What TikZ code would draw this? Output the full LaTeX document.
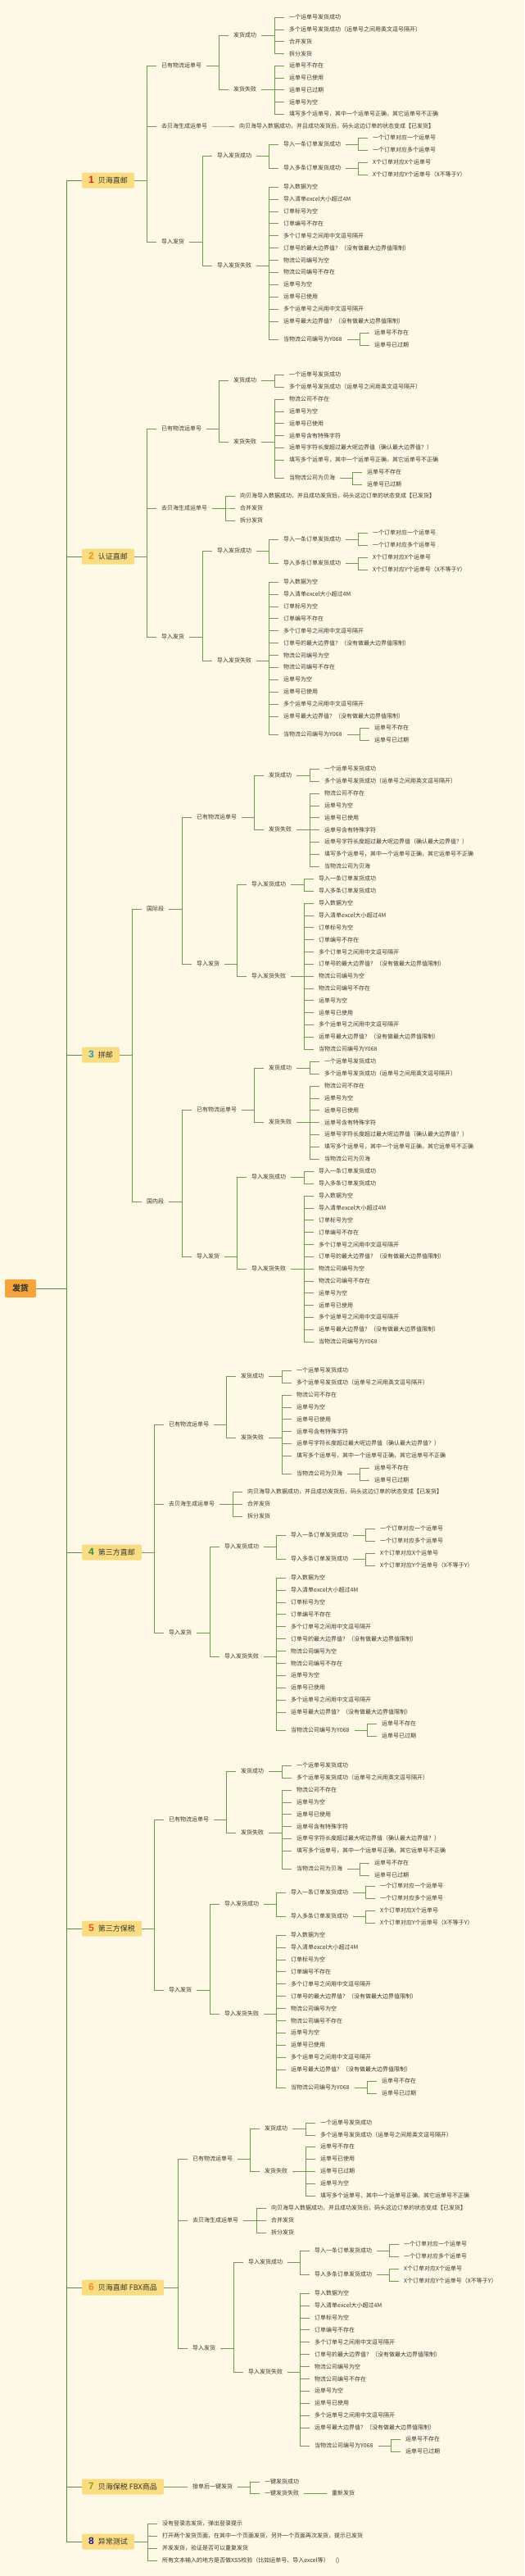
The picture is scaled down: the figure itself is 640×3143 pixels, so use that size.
\documentclass[tikz,border=0pt]{standalone}
\usepackage{fontspec}
\setmainfont{Noto Sans CJK SC}
\newfontfamily\numfont{Liberation Sans}

\begin{document}
\begin{tikzpicture}[x=1pt,y=-1pt]

\definecolor{paper}{RGB}{254,249,230}
\definecolor{topicfill}{RGB}{250,220,130}
\definecolor{rootfill}{RGB}{245,165,60}
\definecolor{branch}{RGB}{110,155,80}
\definecolor{trunk}{RGB}{90,140,65}
\definecolor{ink}{RGB}{55,55,50}
\definecolor{num1}{RGB}{220,30,30}
\definecolor{num2}{RGB}{240,150,20}
\definecolor{num3}{RGB}{40,150,210}
\definecolor{num4}{RGB}{50,140,60}
\definecolor{num5}{RGB}{230,80,40}
\definecolor{num6}{RGB}{240,140,30}
\definecolor{num7}{RGB}{130,170,20}
\definecolor{num8}{RGB}{40,20,140}

% Fill background
\fill[paper] (0,0) rectangle (640,3143);
\useasboundingbox (0,0) rectangle (640,3143);

\tikzset{
    item/.style={
        anchor=west, xshift=-6pt, inner xsep=6pt, inner ysep=1pt,
        text=ink, font=\fontsize{7}{8}\selectfont
    },
    topic/.style={
        anchor=west, fill=topicfill, rounded corners=1.5pt,
        minimum height=19pt, inner xsep=8pt,
        text=ink, font=\fontsize{9}{10}\selectfont
    },
    rootbox/.style={
        fill=rootfill, rounded corners=2pt,
        minimum width=38pt, minimum height=22pt,
        text=ink, font=\fontsize{10}{12}\selectfont\bfseries
    },
    link/.style={
        draw=branch, line width=0.6pt,
        to path={-| ([xshift=-12pt]\tikztotarget.west) -- (\tikztotarget.west)}
    },
    trunklink/.style={
        draw=trunk, line width=1pt,
        to path={-| ([xshift=-19pt]\tikztotarget.west) -- (\tikztotarget.west)}
    }
}

\def\shipfail{物流公司不存在,运单号为空,运单号已使用,运单号含有特殊字符,运单号字符长度超过最大呢边界值（确认最大边界值？）,填写多个运单号，其中一个运单号正确，其它运单号不正确}
\def\importfail{导入数据为空,导入清单excel大小超过4M,订单标号为空,订单编号不存在,多个订单号之间用中文逗号隔开,订单号的最大边界值？（没有做最大边界值限制）,物流公司编号为空,物流公司编号不存在,运单号为空,运单号已使用,多个运单号之间用中文逗号隔开,运单号最大边界值？（没有做最大边界值限制）}

% --- ROOT AND TOPICS ---
\node[rootbox] (root) at (25,1572) {发货};

\node[topic] (t1) at (100,220) {{\numfont\bfseries\fontsize{12}{12}\selectfont\color{num1}1}\hspace{5pt}贝海直邮};
\node[topic] (t2) at (100,679) {{\numfont\bfseries\fontsize{12}{12}\selectfont\color{num2}2}\hspace{5pt}认证直邮};
\node[topic] (t3) at (100,1287) {{\numfont\bfseries\fontsize{12}{12}\selectfont\color{num3}3}\hspace{5pt}拼邮};
\node[topic] (t4) at (100,1894) {{\numfont\bfseries\fontsize{12}{12}\selectfont\color{num4}4}\hspace{5pt}第三方直邮};
\node[topic] (t5) at (100,2353) {{\numfont\bfseries\fontsize{12}{12}\selectfont\color{num5}5}\hspace{5pt}第三方保税};
\node[topic] (t6) at (100,2791) {{\numfont\bfseries\fontsize{12}{12}\selectfont\color{num6}6}\hspace{5pt}贝海直邮 FBX商品};
\node[topic] (t7) at (100,3034) {{\numfont\bfseries\fontsize{12}{12}\selectfont\color{num7}7}\hspace{5pt}贝海保税 FBX商品};
\node[topic] (t8) at (100,3101) {{\numfont\bfseries\fontsize{12}{12}\selectfont\color{num8}8}\hspace{5pt}异常测试};

\foreach \s in {1,...,8}
    \draw[trunklink] (root.east) to (t\s);

% --- 1 贝海直邮 ---
\node[item] (has1) at (197,80) {已有物流运单号};
\node[item] (has1-ok) at (285,43) {发货成功};
\node[item] (has1-bad) at (285,109) {发货失败};
\draw[link] (t1.east) to (has1) (has1.east) to (has1-ok) (has1.east) to (has1-bad);
\foreach \lab [count=\i] in {一个运单号发货成功,多个运单号发货成功（运单号之间用英文逗号隔开）,合并发货,拆分发货} {
    \node[item] (has1-ok\i) at (353,{21+14.8*(\i-1)}) {\lab};
    \draw[link] (has1-ok.east) to (has1-ok\i);
}
\foreach \lab [count=\i] in {运单号不存在,运单号已使用,运单号已过期,运单号为空,填写多个运单号，其中一个运单号正确，其它运单号不正确} {
    \node[item] (has1-bad\i) at (353,{80+14.8*(\i-1)}) {\lab};
    \draw[link] (has1-bad.east) to (has1-bad\i);
}
\node[item] (gen1) at (197,154) {去贝海生成运单号};
\node[item] (gen1-1) at (292,154) {向贝海导入数据成功，并且成功发货后，码头这边订单的状态变成【已发货】};
\draw[link] (t1.east) to (gen1) (gen1.east) to (gen1-1);

% --- 6 贝海直邮 FBX商品 ---
\node[item] (has6) at (235,2634) {已有物流运单号};
\node[item] (has6-ok) at (323,2597) {发货成功};
\node[item] (has6-bad) at (323,2649) {发货失败};
\draw[link] (t6.east) to (has6) (has6.east) to (has6-ok) (has6.east) to (has6-bad);
\foreach \lab [count=\i] in {一个运单号发货成功,多个运单号发货成功（运单号之间用英文逗号隔开）} {
    \node[item] (has6-ok\i) at (391,{2590+15*(\i-1)}) {\lab};
    \draw[link] (has6-ok.east) to (has6-ok\i);
}
\foreach \lab [count=\i] in {运单号不存在,运单号已使用,运单号已过期,运单号为空,填写多个运单号，其中一个运单号正确，其它运单号不正确} {
    \node[item] (has6-bad\i) at (391,{2619+15*(\i-1)}) {\lab};
    \draw[link] (has6-bad.east) to (has6-bad\i);
}

% --- 已有物流运单号 (2, 4, 5) ---
\foreach \s/\ox/\oy in {2/197/523,4/206/1738,5/206/2220} {
    \begin{scope}[shift={(\ox,\oy)}]
        \node[item] (has\s) at (0,0) {已有物流运单号};
        \node[item] (has\s-ok) at (88,-59) {发货成功};
        \node[item] (has\s-bad) at (88,16) {发货失败};
        \node[item] (has\s-ok1) at (156,-66) {一个运单号发货成功};
        \node[item] (has\s-ok2) at (156,-51) {多个运单号发货成功（运单号之间用英文逗号隔开）};
        \foreach \lab [count=\i] in \shipfail
            \node[item] (has\s-bad\i) at (156,{-36+14.8*(\i-1)}) {\lab};
        \node[item] (has\s-bh) at (156,60) {当物流公司为贝海};
        \node[item] (has\s-bh1) at (251,53) {运单号不存在};
        \node[item] (has\s-bh2) at (251,68) {运单号已过期};
    \end{scope}
    \draw[link] (t\s.east) to (has\s) (has\s.east) to (has\s-ok) (has\s.east) to (has\s-bad);
    \draw[link] (has\s-ok.east) to (has\s-ok1) (has\s-ok.east) to (has\s-ok2);
    \foreach \i in {1,...,6}
        \draw[link] (has\s-bad.east) to (has\s-bad\i);
    \draw[link] (has\s-bad.east) to (has\s-bh);
    \draw[link] (has\s-bh.east) to (has\s-bh1) (has\s-bh.east) to (has\s-bh2);
}

% --- 去贝海生成运单号 (2, 4, 6) ---
\foreach \s/\ox/\oy in {2/197/620,4/206/1835,6/235/2709} {
    \begin{scope}[shift={(\ox,\oy)}]
        \node[item] (gen\s) at (0,0) {去贝海生成运单号};
        \foreach \lab [count=\i] in {向贝海导入数据成功，并且成功发货后，码头这边订单的状态变成【已发货】,合并发货,拆分发货}
            \node[item] (gen\s-\i) at (96,{-15+15*(\i-1)}) {\lab};
    \end{scope}
    \draw[link] (t\s.east) to (gen\s);
    \foreach \i in {1,2,3}
        \draw[link] (gen\s.east) to (gen\s-\i);
}

% --- 导入发货 (1, 2, 4, 5, 6) ---
\foreach \s/\ox/\oy in {1/197/295,2/197/777,4/206/1992,5/206/2428,6/235/2865} {
    \begin{scope}[shift={(\ox,\oy)}]
        \node[item] (imp\s) at (0,0) {导入发货};
        \node[item] (imp\s-ok) at (68,-105) {导入发货成功};
        \node[item] (imp\s-one) at (149,-119) {导入一条订单发货成功};
        \node[item] (imp\s-many) at (149,-90) {导入多条订单发货成功};
        \node[item] (imp\s-one1) at (258,-127) {一个订单对应一个运单号};
        \node[item] (imp\s-one2) at (258,-112) {一个订单对应多个运单号};
        \node[item] (imp\s-many1) at (258,-97) {X个订单对应X个运单号};
        \node[item] (imp\s-many2) at (258,-82) {X个订单对应Y个运单号（X不等于Y）};
        \node[item] (imp\s-fail) at (68,29) {导入发货失败};
        \foreach \lab [count=\i] in \importfail
            \node[item] (imp\s-fail\i) at (149,{-67+14.9*(\i-1)}) {\lab};
        \node[item] (imp\s-y) at (149,119) {当物流公司编号为Y068};
        \node[item] (imp\s-y1) at (260,111) {运单号不存在};
        \node[item] (imp\s-y2) at (260,126) {运单号已过期};
    \end{scope}
    \draw[link] (t\s.east) to (imp\s) (imp\s.east) to (imp\s-ok) (imp\s.east) to (imp\s-fail);
    \draw[link] (imp\s-ok.east) to (imp\s-one) (imp\s-ok.east) to (imp\s-many);
    \draw[link] (imp\s-one.east) to (imp\s-one1) (imp\s-one.east) to (imp\s-one2);
    \draw[link] (imp\s-many.east) to (imp\s-many1) (imp\s-many.east) to (imp\s-many2);
    \foreach \i in {1,...,12}
        \draw[link] (imp\s-fail.east) to (imp\s-fail\i);
    \draw[link] (imp\s-fail.east) to (imp\s-y);
    \draw[link] (imp\s-y.east) to (imp\s-y1) (imp\s-y.east) to (imp\s-y2);
}

% --- 3 拼邮 ---
\foreach \s/\oy/\seg in {a/1109/国际段,b/1466/国内段} {
    \begin{scope}[shift={(179,\oy)}]
        \node[item] (t3\s) at (0,0) {\seg};
        \node[item] (t3\s-has) at (61,-112) {已有物流运单号};
        \node[item] (t3\s-imp) at (61,67) {导入发货};
        \node[item] (t3\s-ok) at (149,-163) {发货成功};
        \node[item] (t3\s-bad) at (149,-97) {发货失败};
        \node[item] (t3\s-ok1) at (217,-171) {一个运单号发货成功};
        \node[item] (t3\s-ok2) at (217,-156) {多个运单号发货成功（运单号之间用英文逗号隔开）};
        \foreach \lab [count=\i] in \shipfail
            \node[item] (t3\s-bad\i) at (217,{-141+14.8*(\i-1)}) {\lab};
        \node[item] (t3\s-bad7) at (217,-52) {当物流公司为贝海};
        \node[item] (t3\s-iok) at (128,-30) {导入发货成功};
        \node[item] (t3\s-ifail) at (128,82) {导入发货失败};
        \node[item] (t3\s-iok1) at (210,-37) {导入一条订单发货成功};
        \node[item] (t3\s-iok2) at (210,-22) {导入多条订单发货成功};
        \foreach \lab [count=\i] in \importfail
            \node[item] (t3\s-ifail\i) at (210,{-7+14.83*(\i-1)}) {\lab};
        \node[item] (t3\s-ifail13) at (210,171) {当物流公司编号为Y068};
    \end{scope}
    \draw[link] (t3.east) to (t3\s) (t3\s.east) to (t3\s-has) (t3\s.east) to (t3\s-imp);
    \draw[link] (t3\s-has.east) to (t3\s-ok) (t3\s-has.east) to (t3\s-bad);
    \draw[link] (t3\s-ok.east) to (t3\s-ok1) (t3\s-ok.east) to (t3\s-ok2);
    \foreach \i in {1,...,7}
        \draw[link] (t3\s-bad.east) to (t3\s-bad\i);
    \draw[link] (t3\s-imp.east) to (t3\s-iok) (t3\s-imp.east) to (t3\s-ifail);
    \draw[link] (t3\s-iok.east) to (t3\s-iok1) (t3\s-iok.east) to (t3\s-iok2);
    \foreach \i in {1,...,13}
        \draw[link] (t3\s-ifail.east) to (t3\s-ifail\i);
}

% --- 7 贝海保税 FBX商品 ---
\node[item] (t7a) at (235,3034) {接单后一键发货};
\node[item] (t7a1) at (323,3028) {一键发货成功};
\node[item] (t7a2) at (323,3042) {一键发货失败};
\node[item] (t7a2a) at (405,3042) {重新发货};
\draw[link] (t7.east) to (t7a) (t7a.east) to (t7a1) (t7a.east) to (t7a2);
\draw[link] (t7a2.east) to (t7a2a);

% --- 8 异常测试 ---
\foreach \lab [count=\i] in {没有登录态发货，弹出登录提示,打开两个发货页面，在其中一个页面发货，另外一个页面再次发货，提示已发货,并发发货，验证是否可以重复发货,所有文本输入的地方是否做XSS校验（比如运单号、导入excel等）\hspace{8pt}()} {
    \node[item] (t8-\i) at (198,{3079+15*(\i-1)}) {\lab};
    \draw[link] (t8.east) to (t8-\i);
}

\end{tikzpicture}
\end{document}
